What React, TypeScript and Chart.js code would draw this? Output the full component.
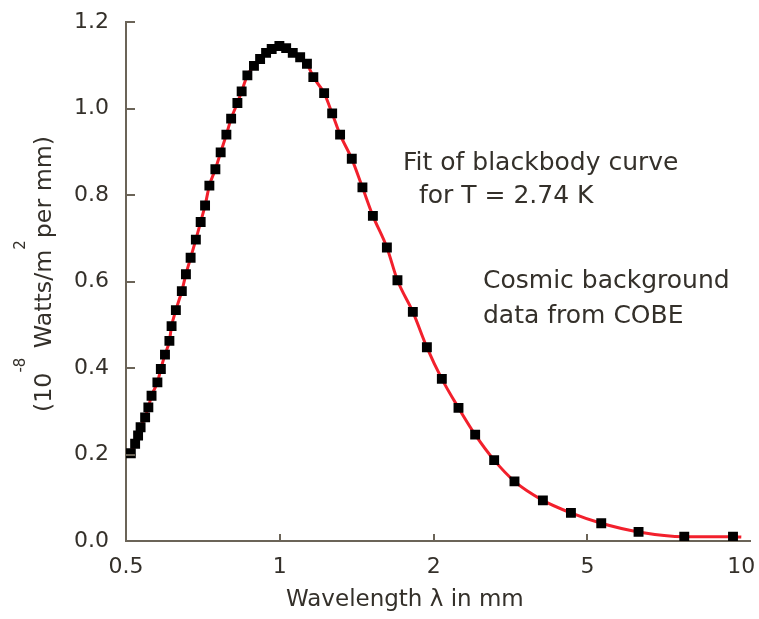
import React, { useEffect, useRef } from "react";
import { Chart, registerables } from "chart.js";

Chart.register(...registerables);

// Axis tick values (the x axis places these at equal spacing)
const X_TICKS = [0.5, 1, 2, 5, 10];
const X_MAX_MM = 10.4;
const Y_MIN = 0;
const Y_MAX = 1.2;
const Y_STEP = 0.2;

// COBE data points: wavelength (mm) and intensity (10^-8 W/m^2 per mm)
const WAVELENGTH_MM = [
  0.511, 0.521, 0.528, 0.534, 0.545, 0.553, 0.561, 0.576, 0.585, 0.596,
  0.608, 0.614, 0.626, 0.643, 0.655, 0.669, 0.685, 0.7, 0.714, 0.728,
  0.748, 0.766, 0.786, 0.803, 0.826, 0.842, 0.864, 0.89, 0.915, 0.94,
  0.964, 0.998, 1.029, 1.06, 1.096, 1.13, 1.163, 1.221, 1.266, 1.312,
  1.383, 1.451, 1.521, 1.62, 1.699, 1.821, 1.94, 2.1, 2.319, 2.561,
  2.868, 3.237, 3.834, 4.531, 5.32, 6.294, 7.734, 9.633,
];
const INTENSITY = [
  0.203, 0.225, 0.244, 0.263, 0.286, 0.309, 0.336, 0.367, 0.398, 0.431,
  0.463, 0.497, 0.534, 0.578, 0.617, 0.655, 0.697, 0.738, 0.776, 0.822,
  0.86, 0.899, 0.94, 0.977, 1.013, 1.04, 1.077, 1.099, 1.115, 1.129,
  1.138, 1.145, 1.14, 1.129, 1.119, 1.104, 1.073, 1.036, 0.989, 0.94,
  0.884, 0.818, 0.752, 0.679, 0.603, 0.53, 0.448, 0.375, 0.308, 0.246,
  0.187, 0.138, 0.094, 0.065, 0.041, 0.021, 0.01, 0.01,
];

// Blackbody fit curve (T = 2.74 K)
const FIT_WAVELENGTH_MM = [...WAVELENGTH_MM, 10.0];
const FIT_INTENSITY = [...INTENSITY, 0.009];

const TITLE_X = "Wavelength λ in mm";
const NOTE_FIT = ["Fit of blackbody curve", "for T = 2.74 K"];
const NOTE_DATA = ["Cosmic background", "data from COBE"];

const FONT = "'DejaVu Sans', 'Liberation Sans', sans-serif";
const TEXT = "#34302a";
const AXIS = "#6b6458";

// Position along the x axis: ticks are equally spaced, log-interpolated between them
function tickPos(lambda: number): number {
  const n = X_TICKS.length;
  for (let i = 0; i < n - 1; i++) {
    const a = X_TICKS[i];
    const b = X_TICKS[i + 1];
    if (lambda <= b || i === n - 2) {
      return i + Math.log(lambda / a) / Math.log(b / a);
    }
  }
  return 0;
}

const decorPlugin = {
  id: "decor",
  afterDraw(chart: any) {
    const { ctx, chartArea } = chart;
    const xs = chart.scales.x;
    const ys = chart.scales.y;
    ctx.save();
    // inward tick marks
    ctx.strokeStyle = AXIS;
    ctx.lineWidth = 2;
    ctx.beginPath();
    for (let v = Y_STEP; v <= Y_MAX + 1e-9; v += Y_STEP) {
      const py = Math.round(ys.getPixelForValue(v));
      ctx.moveTo(chartArea.left, py);
      ctx.lineTo(chartArea.left + 9, py);
    }
    X_TICKS.slice(1, X_TICKS.length - 1).forEach((t) => {
      const px = Math.round(xs.getPixelForValue(tickPos(t)));
      ctx.moveTo(px, chartArea.bottom);
      ctx.lineTo(px, chartArea.bottom - 7);
    });
    ctx.stroke();

    ctx.fillStyle = TEXT;
    ctx.textBaseline = "alphabetic";
    ctx.textAlign = "left";

    // x title
    ctx.font = `23px ${FONT}`;
    ctx.fillText(TITLE_X, 286, 606);

    // annotations
    ctx.font = `25px ${FONT}`;
    ctx.fillText(NOTE_FIT[0], 403, 170);
    ctx.fillText(NOTE_FIT[1], 419, 203);
    ctx.fillText(NOTE_DATA[0], 483, 288);
    ctx.fillText(NOTE_DATA[1], 483, 323);

    // y title with superscripts, rotated
    ctx.translate(51, 412);
    ctx.rotate(-Math.PI / 2);
    const parts: [string, boolean][] = [
      ["(10", false],
      ["-8", true],
      [" Watts/m", false],
      ["2", true],
      ["per mm)", false],
    ];
    let cx = 0;
    parts.forEach(([s, sup]) => {
      ctx.font = sup ? `15px ${FONT}` : `23.7px ${FONT}`;
      ctx.fillText(s, cx, sup ? -26 : 0);
      cx += ctx.measureText(s).width + (sup ? 2 : 0);
    });
    ctx.restore();
  },
};

export default function App() {
  const ref = useRef<HTMLCanvasElement | null>(null);

  useEffect(() => {
    if (!ref.current) return;
    const points = WAVELENGTH_MM.map((l, i) => ({ x: tickPos(l), y: INTENSITY[i] }));
    const fit = FIT_WAVELENGTH_MM.map((l, i) => ({ x: tickPos(l), y: FIT_INTENSITY[i] }));
    const chart = new Chart(ref.current, {
      type: "scatter",
      data: {
        datasets: [
          {
            label: "Cosmic background data from COBE",
            data: points,
            showLine: false,
            pointStyle: "rect",
            pointRadius: 7,
            pointBackgroundColor: "#000000",
            pointBorderWidth: 0,
            pointBorderColor: "#000000",
          },
          {
            label: "Fit of blackbody curve for T = 2.74 K",
            data: fit,
            showLine: true,
            borderColor: "#f2202c",
            borderWidth: 3,
            pointRadius: 0,
            cubicInterpolationMode: "monotone",
            fill: false,
          },
        ],
      },
      options: {
        animation: false,
        responsive: true,
        maintainAspectRatio: false,
        layout: { padding: { top: 20, right: 9, bottom: 0, left: 0 } },
        plugins: {
          legend: { display: false },
          tooltip: { enabled: false },
        },
        scales: {
          x: {
            type: "linear",
            min: tickPos(X_TICKS[0]),
            max: tickPos(X_MAX_MM),
            grid: { display: false },
            border: { display: true, color: AXIS, width: 2 },
            afterBuildTicks: (scale: any) => {
              scale.ticks = X_TICKS.map((t) => ({ value: tickPos(t) }));
            },
            afterFit: (scale: any) => {
              scale.height = 78;
              scale.paddingRight = 0;
              scale.paddingLeft = 0;
            },
            ticks: {
              autoSkip: false,
              maxRotation: 0,
              padding: 5,
              color: TEXT,
              font: { family: FONT, size: 22 },
              callback: (value: any) => {
                const t = X_TICKS.find((v) => Math.abs(tickPos(v) - Number(value)) < 1e-6);
                return t === undefined ? "" : String(t);
              },
            },
          },
          y: {
            type: "linear",
            min: Y_MIN,
            max: Y_MAX,
            grid: { display: false },
            border: { display: true, color: AXIS, width: 2 },
            afterFit: (scale: any) => {
              scale.width = 126;
            },
            ticks: {
              stepSize: Y_STEP,
              padding: 9,
              color: TEXT,
              font: { family: FONT, size: 22 },
              callback: (value: any) => Number(value).toFixed(1),
            },
          },
        },
      },
      plugins: [decorPlugin],
    });
    return () => chart.destroy();
  }, []);

  return (
    <div style={{ position: "absolute", left: 0, top: 0, width: 759, height: 619, background: "#fff" }}>
      <canvas ref={ref} />
    </div>
  );
}
